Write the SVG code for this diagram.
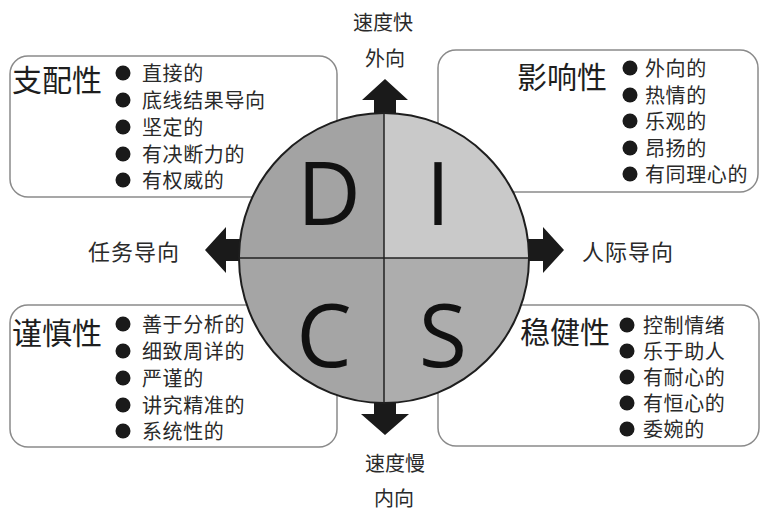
<svg xmlns="http://www.w3.org/2000/svg" width="762" height="511" viewBox="0 0 762 511">
<style>
.box{fill:#fff;stroke:#8a8a8a;stroke-width:1.5}
.title{font-family:"Noto Sans CJK SC","Noto Sans",sans-serif;font-size:30px;fill:#1e1e1e}
.item{font-family:"Noto Sans CJK SC","Noto Sans",sans-serif;font-size:20px;fill:#2a2a2a;letter-spacing:0.6px}
.lbl{font-family:"Noto Sans CJK SC","Noto Sans",sans-serif;font-size:20px;fill:#2a2a2a}
.side{font-family:"Noto Sans CJK SC","Noto Sans",sans-serif;font-size:22px;fill:#2a2a2a;letter-spacing:1px}
.dot{fill:#1a1a1a}
.letter{font-family:"Open Sans","DejaVu Sans",sans-serif;font-size:88px;fill:#111;text-anchor:middle}
.arrow{fill:#1a1a1a}
.q{stroke:#222;stroke-width:1.5}
</style>
<rect width="762" height="511" fill="#fff"/>

<g id="box-D">
<rect class="box" x="10" y="56" width="327" height="141" rx="18"/>
<text class="title" x="12" y="91">支配性</text>
<circle class="dot" cx="123" cy="73" r="7.5"/>
<circle class="dot" cx="123" cy="100" r="7.5"/>
<circle class="dot" cx="123" cy="127" r="7.5"/>
<circle class="dot" cx="123" cy="154" r="7.5"/>
<circle class="dot" cx="123" cy="180" r="7.5"/>
<text class="item" x="142" y="81">直接的</text>
<text class="item" x="142" y="108">底线结果导向</text>
<text class="item" x="142" y="135">坚定的</text>
<text class="item" x="142" y="162">有决断力的</text>
<text class="item" x="142" y="188">有权威的</text>
</g>

<g id="box-I">
<rect class="box" x="438" y="50" width="320" height="142" rx="18"/>
<text class="title" x="517" y="88">影响性</text>
<circle class="dot" cx="630" cy="68" r="7.5"/>
<circle class="dot" cx="630" cy="95" r="7.5"/>
<circle class="dot" cx="630" cy="121" r="7.5"/>
<circle class="dot" cx="630" cy="148" r="7.5"/>
<circle class="dot" cx="630" cy="174" r="7.5"/>
<text class="item" x="645" y="76">外向的</text>
<text class="item" x="645" y="103">热情的</text>
<text class="item" x="645" y="129">乐观的</text>
<text class="item" x="645" y="156">昂扬的</text>
<text class="item" x="645" y="182">有同理心的</text>
</g>

<g id="box-C">
<rect class="box" x="10" y="305" width="327" height="142" rx="18"/>
<text class="title" x="12" y="344">谨慎性</text>
<circle class="dot" cx="123" cy="324" r="7.5"/>
<circle class="dot" cx="123" cy="351" r="7.5"/>
<circle class="dot" cx="123" cy="378" r="7.5"/>
<circle class="dot" cx="123" cy="405" r="7.5"/>
<circle class="dot" cx="123" cy="431" r="7.5"/>
<text class="item" x="142" y="332">善于分析的</text>
<text class="item" x="142" y="359">细致周详的</text>
<text class="item" x="142" y="386">严谨的</text>
<text class="item" x="142" y="413">讲究精准的</text>
<text class="item" x="142" y="439">系统性的</text>
</g>

<g id="box-S">
<rect class="box" x="438" y="305" width="321" height="141" rx="18"/>
<text class="title" x="520" y="343">稳健性</text>
<circle class="dot" cx="627" cy="325" r="7.5"/>
<circle class="dot" cx="627" cy="351" r="7.5"/>
<circle class="dot" cx="627" cy="377" r="7.5"/>
<circle class="dot" cx="627" cy="403" r="7.5"/>
<circle class="dot" cx="627" cy="429" r="7.5"/>
<text class="item" x="643" y="333">控制情绪</text>
<text class="item" x="643" y="359">乐于助人</text>
<text class="item" x="643" y="385">有耐心的</text>
<text class="item" x="643" y="411">有恒心的</text>
<text class="item" x="643" y="437">委婉的</text>
</g>

<g id="connectors">
<polygon class="arrow" points="374,116 374,100 362,100 385,79 408,100 396,100 396,116"/>
<polygon class="arrow" points="374,400 374,414 361,414 385,435 409,414 396,414 396,400"/>
<polygon class="arrow" points="242,239 226,239 226,227 205,250 226,273 226,261 242,261"/>
<polygon class="arrow" points="526,239 543,239 543,227 564,250 543,273 543,261 526,261"/>
</g>

<g id="disc">
<path d="M384,258 L384,113 A145,145 0 0 0 239,258 Z" fill="#a3a3a3"/>
<path d="M384,258 L384,113 A145,145 0 0 1 529,258 Z" fill="#c9c9c9"/>
<path d="M384,258 L239,258 A145,145 0 0 0 384,403 Z" fill="#a5a5a5"/>
<path d="M384,258 L529,258 A145,145 0 0 1 384,403 Z" fill="#adadad"/>
<circle cx="384" cy="258" r="145" fill="none" stroke="#1e1e1e" stroke-width="2"/>
<line class="q" x1="384" y1="113" x2="384" y2="403"/>
<line class="q" x1="239" y1="258" x2="529" y2="258"/>
<text class="letter" x="329" y="225">D</text>
<text class="letter" x="438" y="225">I</text>
<text class="letter" x="324" y="367">C</text>
<text class="letter" x="443" y="367">S</text>
</g>

<g id="labels">
<text class="lbl" x="383" y="30" text-anchor="middle">速度快</text>
<text class="lbl" x="385" y="66" text-anchor="middle">外向</text>
<text class="lbl" x="395" y="471" text-anchor="middle">速度慢</text>
<text class="lbl" x="394" y="506" text-anchor="middle">内向</text>
<text class="side" x="88" y="260">任务导向</text>
<text class="side" x="582" y="260">人际导向</text>
</g>
</svg>
